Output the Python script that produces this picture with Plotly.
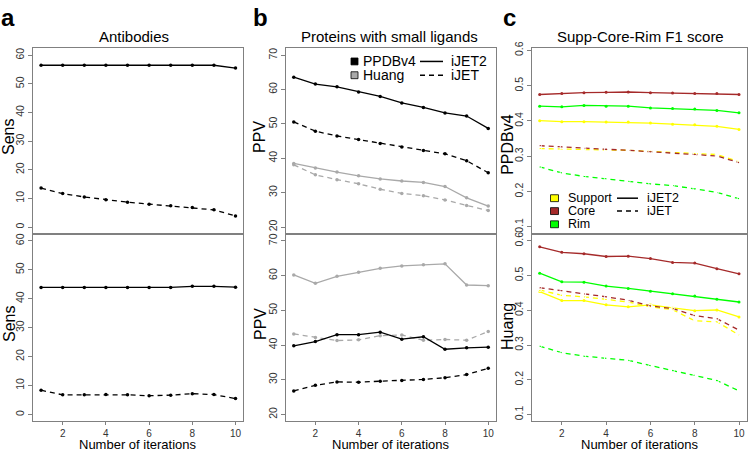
import plotly.graph_objects as go

iterations = [1, 2, 3, 4, 5, 6, 7, 8, 9, 10]

# Panel a: Antibodies (Sens)
a_top_ijet2 = [56.5, 56.5, 56.5, 56.5, 56.5, 56.5, 56.5, 56.5, 56.5, 55.5]
a_top_ijet = [13.6, 11.7, 10.5, 9.5, 8.7, 8.0, 7.4, 6.8, 6.0, 3.9]
a_bot_ijet2 = [43.9, 43.9, 43.9, 43.9, 43.9, 43.9, 43.9, 44.3, 44.3, 44.0]
a_bot_ijet = [8.4, 6.8, 6.8, 6.9, 6.8, 6.5, 6.7, 7.2, 6.9, 5.5]

# Panel b: Proteins with small ligands (PPV)
b_top_ppdb_ijet2 = [63.6, 61.6, 60.8, 59.3, 58.0, 56.1, 54.8, 53.2, 52.3, 48.7]
b_top_ppdb_ijet = [50.6, 47.9, 46.5, 45.5, 44.3, 43.3, 42.3, 41.3, 39.3, 35.8]
b_top_huang_ijet2 = [38.5, 37.2, 36.0, 34.9, 34.0, 33.4, 33.0, 31.8, 28.5, 26.1]
b_top_huang_ijet = [38.1, 35.2, 33.8, 32.6, 31.0, 29.8, 29.1, 27.9, 26.3, 24.8]
b_bot_huang_ijet2 = [60.2, 57.8, 59.8, 61.0, 62.1, 62.8, 63.1, 63.4, 57.3, 57.1]
b_bot_huang_ijet = [43.2, 42.2, 41.3, 41.5, 42.7, 42.9, 41.4, 41.6, 41.4, 43.9]
b_bot_ppdb_ijet2 = [39.8, 41.0, 43.0, 43.0, 43.7, 41.7, 42.4, 38.8, 39.2, 39.4]
b_bot_ppdb_ijet = [26.8, 28.4, 29.4, 29.3, 29.6, 29.8, 30.1, 30.6, 31.5, 33.3]

# Panel c: Supp-Core-Rim F1 score
c_ppdb_core_ijet2 = [0.475, 0.478, 0.480, 0.481, 0.482, 0.480, 0.479, 0.478, 0.478, 0.475]
c_ppdb_rim_ijet2 = [0.442, 0.440, 0.444, 0.442, 0.442, 0.437, 0.435, 0.434, 0.430, 0.423]
c_ppdb_supp_ijet2 = [0.401, 0.398, 0.398, 0.397, 0.397, 0.394, 0.391, 0.389, 0.385, 0.376]
c_ppdb_core_ijet = [0.330, 0.326, 0.322, 0.320, 0.317, 0.313, 0.309, 0.306, 0.301, 0.282]
c_ppdb_supp_ijet = [0.322, 0.320, 0.320, 0.318, 0.317, 0.314, 0.312, 0.309, 0.305, 0.285]
c_ppdb_rim_ijet = [0.270, 0.253, 0.243, 0.237, 0.229, 0.222, 0.217, 0.208, 0.198, 0.180]
c_huang_core_ijet2 = [0.583, 0.567, 0.563, 0.555, 0.556, 0.549, 0.538, 0.536, 0.520, 0.505]
c_huang_rim_ijet2 = [0.507, 0.482, 0.481, 0.470, 0.463, 0.455, 0.448, 0.441, 0.432, 0.424]
c_huang_supp_ijet2 = [0.454, 0.428, 0.428, 0.416, 0.410, 0.416, 0.407, 0.399, 0.401, 0.381]
c_huang_core_ijet = [0.465, 0.457, 0.447, 0.439, 0.429, 0.413, 0.405, 0.385, 0.376, 0.343]
c_huang_supp_ijet = [0.459, 0.443, 0.439, 0.432, 0.424, 0.410, 0.402, 0.370, 0.367, 0.329]
c_huang_rim_ijet = [0.297, 0.278, 0.268, 0.263, 0.256, 0.241, 0.226, 0.213, 0.198, 0.168]

a_yticks = [0, 10, 20, 30, 40, 50, 60]
b_yticks = [20, 30, 40, 50, 60, 70]
c_yticks = [0.1, 0.2, 0.3, 0.4, 0.5, 0.6]
c_ticktext = ["0.1", "0.2", "0.3", "0.4", "0.5", "0.6"]
x_ticks = [2, 4, 6, 8, 10]

BLACK = "#000000"
GRAY = "#a9a9a9"
YELLOW = "#ffff00"
BROWN = "#a52a2a"
GREEN = "#00ff00"
DASH = "5px,4px"
FONT = "Liberation Sans, Arial, sans-serif"

W, H = 750, 452


def px_x(v):
    return v / W


def px_y(v):
    return 1 - v / H


fig = go.Figure()


def add_line(x, y, xa, ya, color, dash=False, open_marker=False, msize=3.5):
    fig.add_trace(go.Scatter(
        x=x, y=y, xaxis=xa, yaxis=ya, mode="lines+markers",
        line=dict(color=color, width=1.3, dash=DASH if dash else "solid"),
        marker=dict(color="white" if open_marker else color, size=msize,
                    symbol="circle-open" if open_marker else "circle",
                    line=dict(color=color, width=1 if open_marker else 0)),
        showlegend=False, hoverinfo="skip"))


# a
add_line(iterations, a_top_ijet2, "x", "y", BLACK)
add_line(iterations, a_top_ijet, "x", "y", BLACK, dash=True)
add_line(iterations, a_bot_ijet2, "x2", "y2", BLACK)
add_line(iterations, a_bot_ijet, "x2", "y2", BLACK, dash=True)
# b
add_line(iterations, b_top_huang_ijet2, "x3", "y3", GRAY)
add_line(iterations, b_top_huang_ijet, "x3", "y3", GRAY, dash=True)
add_line(iterations, b_top_ppdb_ijet2, "x3", "y3", BLACK)
add_line(iterations, b_top_ppdb_ijet, "x3", "y3", BLACK, dash=True)
add_line(iterations, b_bot_huang_ijet2, "x4", "y4", GRAY)
add_line(iterations, b_bot_huang_ijet, "x4", "y4", GRAY, dash=True)
add_line(iterations, b_bot_ppdb_ijet2, "x4", "y4", BLACK)
add_line(iterations, b_bot_ppdb_ijet, "x4", "y4", BLACK, dash=True)
# c
for xa, ya, series in [
    ("x5", "y5", [(c_ppdb_supp_ijet2, YELLOW, False), (c_ppdb_core_ijet2, BROWN, False),
                  (c_ppdb_rim_ijet2, GREEN, False), (c_ppdb_supp_ijet, YELLOW, True),
                  (c_ppdb_core_ijet, BROWN, True), (c_ppdb_rim_ijet, GREEN, True)]),
    ("x6", "y6", [(c_huang_supp_ijet2, YELLOW, False), (c_huang_core_ijet2, BROWN, False),
                  (c_huang_rim_ijet2, GREEN, False), (c_huang_supp_ijet, YELLOW, True),
                  (c_huang_core_ijet, BROWN, True), (c_huang_rim_ijet, GREEN, True)]),
]:
    for vals, col, dashed in series:
        add_line(iterations, vals, xa, ya, col, dash=dashed, open_marker=dashed,
                 msize=3.5 if dashed else 3)

AXCOL = "#808080"
TICKFONT = dict(family=FONT, size=10.5, color="#333333")
XTICKFONT = dict(family=FONT, size=10, color="#333333")


def xaxis(domain, anchor, bottom):
    d = dict(domain=domain, anchor=anchor, range=[0.64, 10.36], showline=True, mirror=True,
             linecolor=AXCOL, linewidth=1, showgrid=False, zeroline=False,
             tickvals=x_ticks, tickfont=XTICKFONT)
    if bottom:
        d.update(ticks="outside", ticklen=3, tickcolor=AXCOL, showticklabels=True)
    else:
        d.update(ticks="", showticklabels=False)
    return d


def yaxis(domain, anchor, rng, tickvals, ticktext=None):
    return dict(domain=domain, anchor=anchor, range=rng, showline=True, mirror=True,
                linecolor=AXCOL, linewidth=1, showgrid=False, zeroline=False,
                tickvals=tickvals, ticktext=ticktext, ticks="outside", ticklen=4,
                tickcolor=AXCOL, tickangle=-90, tickfont=TICKFONT)


xa_dom = [px_x(33.3), px_x(243.3)]
xb_dom = [px_x(286), px_x(496)]
xc_dom = [px_x(531.7), px_x(747)]
top_dom = [px_y(230.5), px_y(42)]
bot_dom = [px_y(421), px_y(230.5)]

fig.update_layout(
    width=W, height=H, margin=dict(l=0, r=0, t=0, b=0),
    paper_bgcolor="white", plot_bgcolor="white",
    font=dict(family=FONT, color="#000000"),
    xaxis=xaxis(xa_dom, "y", False), yaxis=yaxis(top_dom, "x", [-2.4, 62.4], a_yticks),
    xaxis2=xaxis(xa_dom, "y2", True), yaxis2=yaxis(bot_dom, "x2", [-2.4, 62.4], a_yticks),
    xaxis3=xaxis(xb_dom, "y3", False), yaxis3=yaxis(top_dom, "x3", [18, 72], b_yticks),
    xaxis4=xaxis(xb_dom, "y4", True), yaxis4=yaxis(bot_dom, "x4", [18, 72], b_yticks),
    xaxis5=xaxis(xc_dom, "y5", False), yaxis5=yaxis(top_dom, "x5", [0.0803, 0.6056], c_yticks, c_ticktext),
    xaxis6=xaxis(xc_dom, "y6", True), yaxis6=yaxis(bot_dom, "x6", [0.08, 0.62], c_yticks, c_ticktext),
)

ann = []


def text(x, y, s, size, xanchor="center", yanchor="middle", angle=0, bold=False, color="#000000"):
    ann.append(dict(x=px_x(x), y=px_y(y), xref="paper", yref="paper", text=(f"<b>{s}</b>" if bold else s),
                    showarrow=False, xanchor=xanchor, yanchor=yanchor, textangle=angle, borderpad=0,
                    font=dict(family=FONT, size=size, color=color)))


# panel letters
text(0, 11, "a", 24, xanchor="left", bold=True)
text(252, 11, "b", 24, xanchor="left", bold=True)
text(502, 11, "c", 24, xanchor="left", bold=True)
# titles
text(134, 30, "Antibodies", 15)
text(389, 30, "Proteins with small ligands", 15)
text(640, 30, "Supp-Core-Rim F1 score", 15)
# y titles
text(9, 132, "Sens", 16, angle=-90)
text(9, 322, "Sens", 16, angle=-90)
text(260, 132, "PPV", 16, angle=-90)
text(260, 322, "PPV", 16, angle=-90)
text(508, 140, "PPDBv4", 16, angle=-90)
text(508, 325, "Huang", 16, angle=-90)
# x titles
for cx in [138.3, 391, 639.5]:
    text(cx, 444.5, "Number of iterations", 13)

shapes = []


def square(cx, cy, w, h, color):
    shapes.append(dict(type="rect", xref="paper", yref="paper",
                       x0=px_x(cx - w / 2), x1=px_x(cx + w / 2), y0=px_y(cy + h / 2), y1=px_y(cy - h / 2),
                       fillcolor=color, line=dict(color="#000000", width=0.8)))


def hline(x0, x1, y, dashed):
    shapes.append(dict(type="line", xref="paper", yref="paper",
                       x0=px_x(x0), x1=px_x(x1), y0=px_y(y), y1=px_y(y),
                       line=dict(color="#000000", width=1.5, dash=DASH if dashed else "solid")))


# legend b
square(354.5, 55.3, 7, 7, BLACK)
square(354.5, 69.3, 7, 7, GRAY)
text(362, 55.3, "PPDBv4", 14, xanchor="left")
text(362, 69.3, "Huang", 14, xanchor="left")
hline(420, 443, 55.3, False)
hline(420, 443, 69.3, True)
text(450, 55.3, "iJET2", 14, xanchor="left")
text(450, 69.3, "iJET", 14, xanchor="left")

# legend c
square(554.5, 194.2, 8, 7, YELLOW)
square(554.5, 207.3, 8, 7, BROWN)
square(554.5, 220.7, 8, 7, GREEN)
text(567, 194.2, "Support", 12.5, xanchor="left")
text(567, 207.3, "Core", 12.5, xanchor="left")
text(567, 220.7, "Rim", 12.5, xanchor="left")
hline(617, 638, 194.2, False)
hline(617, 638, 207.3, True)
text(646, 194.2, "iJET2", 12.5, xanchor="left")
text(646, 207.3, "iJET", 12.5, xanchor="left")

fig.update_layout(annotations=ann, shapes=shapes)

fig.write_html("out.html", config={"displayModeBar": False},
               post_script="document.body.style.margin='0px';document.body.style.overflow='hidden';")
